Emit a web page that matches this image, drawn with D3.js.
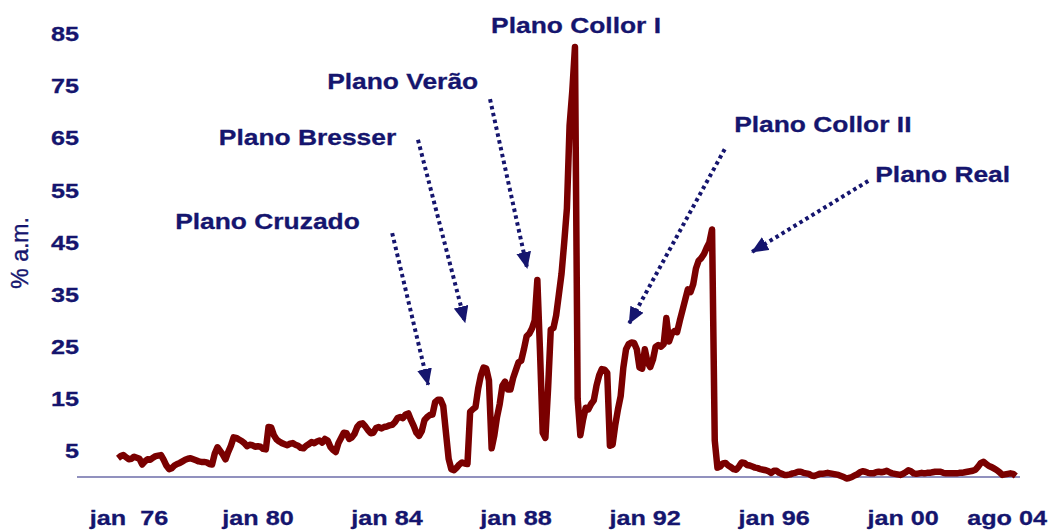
<!DOCTYPE html>
<html>
<head>
<meta charset="utf-8">
<script src="https://cdn.jsdelivr.net/npm/d3@7"></script>
<style>
  html, body { margin: 0; padding: 0; background: #ffffff; }
  svg { display: block; }
</style>
</head>
<body>
<svg id="chart" width="1054" height="531"></svg>
<script>
// Inflação mensal (% a.m.), de jan/76 em diante, um mês por valor
const taxaMensal = [
  3.6, 4.0, 4.2, 3.8, 3.4, 3.5, 3.9, 3.7, 3.5, 2.4, 3.0, 3.4,          // 1976
  3.3, 3.7, 4.0, 4.1, 4.2, 3.3, 2.2, 1.5, 1.7, 2.2, 2.5, 2.7,          // 1977
  3.0, 3.3, 3.5, 3.6, 3.4, 3.2, 3.0, 2.9, 2.9, 2.8, 2.5, 2.4,          // 1978
  4.5, 5.7, 5.0, 4.3, 3.4, 4.8, 6.0, 7.6, 7.5, 7.2, 6.9, 6.5,          // 1979
  5.9, 6.2, 6.1, 5.8, 5.9, 5.8, 5.4, 5.3, 9.6, 9.5, 8.0, 7.2,          // 1980
  6.8, 6.5, 6.3, 6.1, 6.4, 6.5, 6.2, 6.0, 5.6, 5.5, 6.0, 6.3,          // 1981
  6.7, 6.5, 6.8, 7.0, 6.6, 7.3, 7.0, 5.8, 5.2, 4.8, 6.5, 7.5,          // 1982
  8.5, 8.4, 7.3, 7.6, 8.3, 9.6, 10.2, 10.3, 9.7, 9.0, 8.4, 8.5,        // 1983
  9.4, 9.6, 9.3, 9.6, 9.7, 9.9, 10.0, 10.5, 11.3, 11.5, 11.3, 12.0,    // 1984
  12.2, 10.9, 9.8, 8.5, 7.9, 8.8, 10.9, 11.5, 11.9, 12.0, 14.4, 14.8,  // 1985
  14.8, 13.6, 8.5, 3.5, 1.5, 1.3, 1.8, 2.4, 2.8, 2.6, 2.5, 12.5,       // 1986
  13.0, 13.4, 17.0, 19.5, 21.0, 20.8, 18.5, 5.5, 8.0, 11.5, 14.0, 17.5, // 1987
  18.3, 16.8, 16.8, 19.0, 20.5, 22.0, 22.3, 24.5, 27.0, 27.5, 28.5, 30.0, // 1988
  37.8, 24.0, 8.5, 7.5, 17.0, 28.3, 28.6, 31.0, 35.0, 39.0, 45.0, 51.5, // 1989
  67.5, 74.0, 82.5, 15.0, 8.0, 11.0, 13.3, 13.0, 14.0, 14.7, 17.5, 19.5, // 1990
  20.7, 20.6, 20.0, 6.0, 6.2, 10.0, 13.0, 15.5, 21.0, 24.5, 25.5, 25.8, // 1991
  25.7, 24.5, 21.0, 20.8, 24.5, 22.0, 21.1, 22.5, 25.0, 25.3, 25.0, 25.5, // 1992
  30.5, 26.0, 27.5, 28.0, 27.8, 30.0, 32.0, 34.0, 36.0, 35.5, 37.0, 40.0, // 1993
  41.5, 42.0, 42.8, 44.0, 45.0, 47.5, 7.0, 1.8, 2.0, 2.6, 2.7, 2.2,    // 1994
  1.9, 1.5, 1.4, 2.0, 2.8, 2.7, 2.3, 2.2, 2.0, 1.8, 1.7, 1.5,          // 1995
  1.4, 1.3, 1.1, 0.8, 1.2, 1.2, 0.8, 0.6, 0.4, 0.4, 0.5, 0.7,          // 1996
  0.8, 1.0, 1.0, 0.8, 0.7, 0.6, 0.3, 0.2, 0.4, 0.6, 0.6, 0.7,          // 1997
  0.8, 0.7, 0.6, 0.5, 0.4, 0.2, 0.0, -0.3, -0.2, 0.0, 0.3, 0.5,        // 1998
  0.9, 1.1, 1.0, 0.8, 0.7, 0.7, 0.9, 1.0, 0.9, 1.0, 1.2, 0.9,          // 1999
  0.7, 0.6, 0.5, 0.4, 0.6, 0.9, 1.3, 1.1, 0.7, 0.6, 0.7, 0.8,          // 2000
  0.7, 0.8, 0.8, 0.9, 1.0, 1.0, 1.0, 0.8, 0.7, 0.7, 0.7, 0.7,          // 2001
  0.7, 0.8, 0.8, 0.9, 1.0, 1.1, 1.2, 1.4, 2.0, 2.7, 2.9, 2.5,          // 2002
  2.1, 1.9, 1.6, 1.3, 0.9, 0.4, 0.5, 0.6, 0.7, 0.6, 0.2                // 2003
];

// Eixo X: rótulos e o mês (contado a partir de jan/76) de cada um
const rotulosX = ["jan  76", "jan 80", "jan 84", "jan 88", "jan 92", "jan 96", "jan 00", "ago 04"];
const mesesRotulosX = [0, 48, 96, 144, 192, 240, 288, 343];

// Eixo Y
const ticksY = [5, 15, 25, 35, 45, 55, 65, 75, 85];

// Planos econômicos: rótulo e seta, em coordenadas (mês, % a.m.)
const planos = ["Plano Cruzado", "Plano Bresser", "Plano Verão", "Plano Collor I", "Plano Collor II", "Plano Real"];
const planosRotuloMes = [55.6, 70.5, 105.9, 170.4, 262.2, 306.8];
const planosRotuloValor = [47.6, 63.7, 74.4, 85.2, 66.2, 56.6];
const planosSetaInicio = [[102.0, 46.8], [111.6, 64.7], [138.4, 72.5], null, [225.7, 62.9], [279.1, 56.8]];
const planosSetaFim = [[115.4, 17.7], [129.1, 29.7], [152.2, 40.1], null, [190.2, 29.5], [235.9, 43.2]];

// ---- desenho ----
const W = 1054, H = 531;
const azul = "#15156e";
const vinho = "#7a0000";
const fonte = "'Liberation Sans', Arial, Helvetica, sans-serif";
const esticar = 1.2; // letras mais largas, como no slide original

const svg = d3.select("#chart");

const x = d3.scaleLinear().domain([0, 343]).range([118, 1040]);
const y = d3.scaleLinear().domain([0, 85]).range([477, 34]);

// linha de base
svg.append("line")
  .attr("x1", 77).attr("x2", 1020)
  .attr("y1", y(0)).attr("y2", y(0))
  .attr("stroke", "#6d6da8").attr("stroke-width", 1.6);

// eixo Y (só rótulos)
const eixoY = svg.append("g")
  .attr("transform", "translate(79,0)")
  .call(d3.axisLeft(y).tickValues(ticksY).tickSize(0).tickPadding(0).tickFormat(d3.format("d")));
eixoY.select(".domain").remove();
eixoY.selectAll("text")
  .attr("fill", azul)
  .attr("font-family", fonte)
  .attr("font-weight", "bold")
  .attr("font-size", 21)
  .attr("stroke", azul)
  .attr("stroke-width", 0.3)
  .attr("transform", `scale(${esticar},1)`);

// título do eixo Y
svg.append("text")
  .attr("transform", `translate(28,${y(43)}) rotate(-90)`)
  .attr("text-anchor", "middle")
  .attr("fill", azul)
  .attr("font-family", fonte)
  .attr("font-size", 23)
  .attr("stroke", azul)
  .attr("stroke-width", 0.4)
  .text("% a.m.");

// rótulos do eixo X
const gx = svg.append("g");
rotulosX.forEach((r, i) => {
  const t = gx.append("text")
    .attr("fill", azul)
    .attr("font-family", fonte)
    .attr("font-weight", "bold")
    .attr("font-size", 21)
    .attr("stroke", azul)
    .attr("stroke-width", 0.3)
    .attr("text-anchor", "middle")
    .style("white-space", "pre")
    .attr("xml:space", "preserve")
    .text(r);
  const w = t.node().getComputedTextLength() * esticar;
  let cx = x(mesesRotulosX[i]) + 11;
  if (cx + w / 2 > W - 7) cx = W - 7 - w / 2;
  t.attr("transform", `translate(${cx},525) scale(${esticar},1)`);
});

// série
const linha = d3.line()
  .x((d, i) => x(i))
  .y(d => y(d))
  .curve(d3.curveLinear);

svg.append("path")
  .datum(taxaMensal)
  .attr("d", linha)
  .attr("fill", "none")
  .attr("stroke", vinho)
  .attr("stroke-width", 6.5)
  .attr("stroke-linejoin", "round")
  .attr("stroke-linecap", "butt");

// ponta de seta
svg.append("defs").append("marker")
  .attr("id", "ponta")
  .attr("viewBox", "0 0 16 14")
  .attr("refX", 15).attr("refY", 7)
  .attr("markerWidth", 17).attr("markerHeight", 15)
  .attr("markerUnits", "userSpaceOnUse")
  .attr("orient", "auto")
  .append("path")
  .attr("d", "M0,0 L16,7 L0,14 Z")
  .attr("fill", azul);

// anotações
planos.forEach((p, i) => {
  const a = planosSetaInicio[i], b = planosSetaFim[i];
  if (a && b) {
    svg.append("line")
      .attr("x1", x(a[0])).attr("y1", y(a[1]))
      .attr("x2", x(b[0])).attr("y2", y(b[1]))
      .attr("stroke", azul)
      .attr("stroke-width", 4)
      .attr("stroke-dasharray", "3.5 3.5")
      .attr("marker-end", "url(#ponta)");
  }
  svg.append("text")
    .attr("transform", `translate(${x(planosRotuloMes[i])},${y(planosRotuloValor[i])}) scale(${esticar},1)`)
    .attr("text-anchor", "middle")
    .attr("fill", azul)
    .attr("font-family", fonte)
    .attr("font-weight", "bold")
    .attr("font-size", 22)
    .attr("stroke", azul)
    .attr("stroke-width", 0.3)
    .text(p);
});
</script>
</body>
</html>
